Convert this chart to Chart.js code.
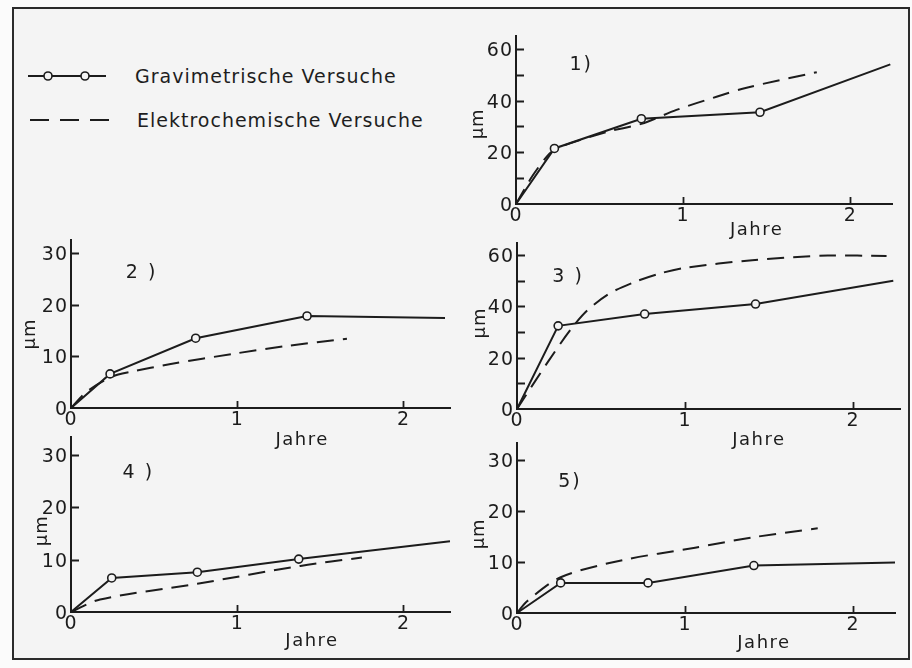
<!DOCTYPE html>
<html>
  <head>
    <title>Gravimetrische und elektrochemische Versuche</title>
    <script src="https://cdn.jsdelivr.net/npm/chart.js"></script>
    <style>
      body {
        margin: 0;
        width: 912px;
        height: 668px;
        overflow: hidden;
        background-color: #fbfbfb;
        font-family: "DejaVu Sans", sans-serif;
        color: #1e1e1e;
      }
      #frame {
        position: absolute;
        left: 12px;
        top: 7px;
        width: 894px;
        height: 649px;
        border: 2px solid #2b2b2b;
        background-color: #f4f4f4;
      }
      .panel {
        position: absolute;
      }
      .legend-text {
        position: absolute;
        font-size: 19px;
        letter-spacing: 1px;
        line-height: 24px;
        white-space: nowrap;
      }
      svg {
        position: absolute;
      }
    </style>
  </head>
  <body>
    <div id="frame"></div>

    <svg style="left: 26px; top: 66px" width="86" height="20">
      <line x1="2" y1="10" x2="80" y2="10" stroke="#1c1c1c" stroke-width="2" />
      <circle cx="22" cy="10" r="4" fill="#f4f4f4" stroke="#1c1c1c" stroke-width="1.6" />
      <circle cx="59" cy="10" r="4" fill="#f4f4f4" stroke="#1c1c1c" stroke-width="1.6" />
    </svg>
    <div class="legend-text" style="left: 135px; top: 64px">Gravimetrische Versuche</div>

    <svg style="left: 28px; top: 110px" width="86" height="20">
      <line x1="2" y1="10" x2="81" y2="10" stroke="#1c1c1c" stroke-width="2" stroke-dasharray="19 11" />
    </svg>
    <div class="legend-text" style="left: 137px; top: 108px">Elektrochemische Versuche</div>

    <div id="panels"></div>

    <script>
      const gravJahre1 = [0, 0.23, 0.75, 1.46, 2.24];
      const gravUm1 = [0, 21.5, 33, 35.5, 54];
      const elekJahre1 = [0, 0.1, 0.2, 0.26, 0.55, 0.75, 0.96, 1.2, 1.38, 1.8];
      const elekUm1 = [0, 11, 19.5, 22, 28, 31, 36.4, 41.5, 45, 51];

      const gravJahre2 = [0, 0.235, 0.75, 1.42, 2.25];
      const gravUm2 = [0, 6.6, 13.5, 17.8, 17.4];
      const elekJahre2 = [0, 0.1, 0.25, 0.36, 0.6, 0.98, 1.3, 1.66];
      const elekUm2 = [0, 3.3, 6.1, 7, 8.5, 10.5, 12, 13.4];

      const gravJahre3 = [0, 0.245, 0.76, 1.42, 2.24];
      const gravUm3 = [0, 32.4, 37, 40.9, 50];
      const elekJahre3 = [0, 0.18, 0.32, 0.42, 0.55, 0.7, 0.85, 1.0, 1.4, 1.85, 2.2];
      const elekUm3 = [0, 18, 31, 38.5, 45, 49.5, 52.8, 55, 58, 59.8, 59.6];

      const gravJahre4 = [0, 0.245, 0.76, 1.37, 2.28];
      const gravUm4 = [0, 6.5, 7.6, 10.1, 13.5];
      const elekJahre4 = [0, 0.175, 0.76, 1.38, 1.75];
      const elekUm4 = [0, 2.4, 5.4, 8.8, 10.4];

      const gravJahre5 = [0, 0.26, 0.78, 1.41, 2.25];
      const gravUm5 = [0, 5.9, 5.9, 9.3, 9.9];
      const elekJahre5 = [0, 0.06, 0.26, 0.62, 1.06, 1.4, 1.79];
      const elekUm5 = [0, 2.3, 7, 10.3, 12.8, 14.8, 16.6];

      const panelLabels = ["1)", "2 )", "3 )", "4 )", "5)"];
      const xLabel = "Jahre";
      const yLabel = "µm";

      const ink = "#1c1c1c";
      const paper = "#f4f4f4";
      const yAxisWidth = 70;
      const xAxisHeight = 50;
      const padTop = 18;
      const padRight = 14;

      // chart area of each panel in page pixels, plus axis ranges
      const panels = [
        { left: 516, right: 892, top: 36, bottom: 204, xMax: 2.25, yMax: 65, every: 20,
          gx: gravJahre1, gy: gravUm1, ex: elekJahre1, ey: elekUm1,
          labelAt: [0.32, 53.8], jahreAt: 1.44, jahreDy: 26, muAt: 31, muDx: 38 },
        { left: 71, right: 450, top: 240, bottom: 408, xMax: 2.28, yMax: 32.5, every: 10,
          gx: gravJahre2, gy: gravUm2, ex: elekJahre2, ey: elekUm2,
          labelAt: [0.33, 26.1], jahreAt: 1.39, jahreDy: 32, muAt: 14.3, muDx: 41 },
        { left: 517, right: 900, top: 243, bottom: 409, xMax: 2.28, yMax: 64.7, every: 20,
          gx: gravJahre3, gy: gravUm3, ex: elekJahre3, ey: elekUm3,
          labelAt: [0.21, 51.4], jahreAt: 1.44, jahreDy: 31, muAt: 33.5, muDx: 37 },
        { left: 71, right: 450, top: 437, bottom: 612, xMax: 2.28, yMax: 33.4, every: 10,
          gx: gravJahre4, gy: gravUm4, ex: elekJahre4, ey: elekUm4,
          labelAt: [0.31, 26.6], jahreAt: 1.45, jahreDy: 29, muAt: 15.5, muDx: 29 },
        { left: 517, right: 895, top: 443, bottom: 613, xMax: 2.25, yMax: 33.3, every: 10,
          gx: gravJahre5, gy: gravUm5, ex: elekJahre5, ey: elekUm5,
          labelAt: [0.245, 25.7], jahreAt: 1.47, jahreDy: 30, muAt: 15.5, muDx: 38 },
      ];

      // inward tick marks and the free texts of each panel
      const panelMarks = {
        id: "panelMarks",
        beforeDraw(chart) {
          chart.ctx.letterSpacing = "1px";
        },
        afterDraw(chart, args, opts) {
          const ctx = chart.ctx;
          const xs = chart.scales.x;
          const ys = chart.scales.y;
          const area = chart.chartArea;
          ctx.save();
          ctx.strokeStyle = ink;
          ctx.lineWidth = 1.8;
          ctx.beginPath();
          ys.ticks.forEach((t) => {
            if (t.value === 0) return;
            const py = Math.round(ys.getPixelForValue(t.value)) + 0.5;
            ctx.moveTo(area.left, py);
            ctx.lineTo(area.left + 8, py);
          });
          xs.ticks.forEach((t) => {
            if (t.value === 0) return;
            const px = Math.round(xs.getPixelForValue(t.value)) + 0.5;
            ctx.moveTo(px, area.bottom);
            ctx.lineTo(px, area.bottom - 7);
          });
          ctx.stroke();

          ctx.fillStyle = ink;
          ctx.textBaseline = "middle";
          ctx.font = "19px 'DejaVu Sans'";
          ctx.letterSpacing = "2px";
          ctx.textAlign = "left";
          ctx.fillText(
            opts.label,
            xs.getPixelForValue(opts.labelAt[0]),
            ys.getPixelForValue(opts.labelAt[1])
          );

          ctx.font = "18px 'DejaVu Sans'";
          ctx.letterSpacing = "1.5px";
          ctx.textAlign = "center";
          ctx.fillText(xLabel, xs.getPixelForValue(opts.jahreAt), area.bottom + opts.jahreDy);

          ctx.translate(area.left - opts.muDx, ys.getPixelForValue(opts.muAt));
          ctx.rotate(-Math.PI / 2);
          ctx.letterSpacing = "1px";
          ctx.fillText(yLabel, 0, 0);
          ctx.restore();
        },
      };

      const holder = document.getElementById("panels");

      panels.forEach((p, i) => {
        const w = yAxisWidth + (p.right - p.left) + padRight;
        const h = padTop + (p.bottom - p.top) + xAxisHeight;
        const canvas = document.createElement("canvas");
        canvas.className = "panel";
        canvas.width = w;
        canvas.height = h;
        canvas.style.left = p.left - yAxisWidth + "px";
        canvas.style.top = p.top - padTop + "px";
        canvas.style.width = w + "px";
        canvas.style.height = h + "px";
        holder.appendChild(canvas);

        const grav = p.gx.map((x, k) => ({ x: x, y: p.gy[k] }));
        const elek = p.ex.map((x, k) => ({ x: x, y: p.ey[k] }));
        const radii = p.gx.map((x, k) => (k === 0 || k === p.gx.length - 1 ? 0 : 4));

        new Chart(canvas.getContext("2d"), {
          type: "line",
          data: {
            datasets: [
              {
                label: "Gravimetrische Versuche",
                data: grav,
                borderColor: ink,
                borderWidth: 2,
                pointRadius: radii,
                pointBackgroundColor: paper,
                pointBorderColor: ink,
                pointBorderWidth: 1.6,
                tension: 0,
                clip: 6,
              },
              {
                label: "Elektrochemische Versuche",
                data: elek,
                borderColor: ink,
                borderWidth: 2,
                borderDash: [17, 9],
                pointRadius: 0,
                tension: 0.3,
                clip: 6,
              },
            ],
          },
          options: {
            responsive: false,
            animation: false,
            devicePixelRatio: 1,
            layout: { padding: { left: 0, top: padTop, right: padRight, bottom: 0 } },
            plugins: {
              legend: { display: false },
              tooltip: { enabled: false },
              panelMarks: {
                label: panelLabels[i],
                labelAt: p.labelAt,
                jahreAt: p.jahreAt,
                jahreDy: p.jahreDy,
                muAt: p.muAt,
                muDx: p.muDx,
              },
            },
            scales: {
              x: {
                type: "linear",
                min: 0,
                max: p.xMax,
                afterFit: (s) => { s.height = xAxisHeight; },
                grid: { display: false, drawTicks: false },
                border: { display: true, color: ink, width: 2 },
                ticks: {
                  stepSize: 1,
                  includeBounds: false,
                  padding: 1,
                  color: ink,
                  font: { family: "DejaVu Sans", size: 19 },
                  maxRotation: 0,
                },
              },
              y: {
                type: "linear",
                min: 0,
                max: p.yMax,
                afterFit: (s) => { s.width = yAxisWidth; },
                grid: { display: false, drawTicks: false },
                border: { display: true, color: ink, width: 2 },
                ticks: {
                  stepSize: 10,
                  includeBounds: false,
                  padding: 3,
                  labelOffset: 2,
                  color: ink,
                  font: { family: "DejaVu Sans", size: 19 },
                  callback: (v) => (v % p.every === 0 ? v : ""),
                },
              },
            },
          },
          plugins: [panelMarks],
        });
      });
    </script>
  </body>
</html>
